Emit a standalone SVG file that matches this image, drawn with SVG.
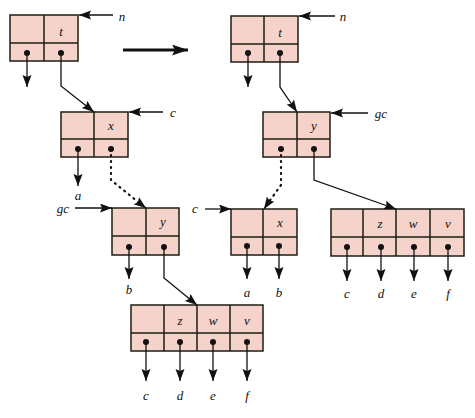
<svg xmlns="http://www.w3.org/2000/svg" width="475" height="418" viewBox="0 0 475 418">
<defs>
<marker id="ah" markerUnits="userSpaceOnUse" markerWidth="14" markerHeight="10" refX="12" refY="4.5" orient="auto">
<path d="M0,0 L12,4.5 L0,9 L2,4.5 Z" fill="#111"/>
</marker>
<marker id="big" markerUnits="userSpaceOnUse" markerWidth="18" markerHeight="12" refX="16" refY="5.5" orient="auto">
<path d="M0,0 L16,5.5 L0,11 L3,5.5 Z" fill="#111"/>
</marker>
</defs>
<style>
.box{fill:#f5d2ca;stroke:#1e1e14;stroke-width:1.5}
.div{stroke:#1e1e14;stroke-width:1.5;fill:none}
.dot{fill:#111}
.ln{stroke:#111;stroke-width:1.3;fill:none}
.arr{stroke:#111;stroke-width:1.3;fill:none;marker-end:url(#ah)}
.dotted{stroke:#111;stroke-width:2.2;fill:none;stroke-dasharray:1 5;stroke-linecap:round}
.lbl{font-family:"Liberation Serif",serif;font-style:italic;font-size:13px;fill:#111;text-anchor:middle}
</style>
<rect width="475" height="418" fill="#fff"/>

<g id="node-t">
<rect class="box" x="10" y="15" width="68" height="46"/>
<path class="div" d="M44,15 V61 M10,43 H78"/>
<circle class="dot" cx="27" cy="53" r="3"/>
<circle class="dot" cx="61" cy="53" r="3"/>
<text class="lbl" x="61" y="36">t</text>
</g>
<g id="node-x">
<rect class="box" x="61" y="112" width="67" height="45"/>
<path class="div" d="M94,112 V157 M61,139 H128"/>
<circle class="dot" cx="78" cy="149" r="3"/>
<circle class="dot" cx="111" cy="149" r="3"/>
<text class="lbl" x="111" y="130">x</text>
</g>
<g id="node-y">
<rect class="box" x="112" y="208" width="67" height="47"/>
<path class="div" d="M146,208 V255 M112,236 H179"/>
<circle class="dot" cx="129" cy="247" r="3"/>
<circle class="dot" cx="164" cy="247" r="3"/>
<text class="lbl" x="163" y="226">y</text>
</g>
<g id="node-zwv">
<rect class="box" x="131" y="305" width="132" height="46"/>
<path class="div" d="M164,305 V351 M197,305 V351 M230,305 V351 M131,333 H263"/>
<circle class="dot" cx="146" cy="342" r="3"/>
<circle class="dot" cx="180" cy="342" r="3"/>
<circle class="dot" cx="213" cy="342" r="3"/>
<circle class="dot" cx="247" cy="342" r="3"/>
<text class="lbl" x="180" y="325">z</text>
<text class="lbl" x="213" y="325">w</text>
<text class="lbl" x="247" y="325">v</text>
</g>

<g id="node-t2">
<rect class="box" x="231" y="16" width="67" height="46"/>
<path class="div" d="M264,16 V62 M231,44 H298"/>
<circle class="dot" cx="248" cy="53" r="3"/>
<circle class="dot" cx="280" cy="53" r="3"/>
<text class="lbl" x="280" y="37">t</text>
</g>
<g id="node-y2">
<rect class="box" x="263" y="112" width="67" height="45"/>
<path class="div" d="M297,112 V157 M263,139 H330"/>
<circle class="dot" cx="281" cy="149" r="3"/>
<circle class="dot" cx="314" cy="149" r="3"/>
<text class="lbl" x="314" y="130">y</text>
</g>
<g id="node-x2">
<rect class="box" x="231" y="209" width="66" height="46"/>
<path class="div" d="M263,209 V255 M231,237 H297"/>
<circle class="dot" cx="247" cy="246" r="3"/>
<circle class="dot" cx="279" cy="246" r="3"/>
<text class="lbl" x="280" y="227">x</text>
</g>
<g id="node-zwv2">
<rect class="box" x="331" y="209" width="133" height="47"/>
<path class="div" d="M363,209 V256 M396,209 V256 M430,209 V256 M331,237 H464"/>
<circle class="dot" cx="347" cy="247" r="3"/>
<circle class="dot" cx="381" cy="247" r="3"/>
<circle class="dot" cx="414" cy="247" r="3"/>
<circle class="dot" cx="448" cy="247" r="3"/>
<text class="lbl" x="380" y="228">z</text>
<text class="lbl" x="413" y="228">w</text>
<text class="lbl" x="448" y="228">v</text>
</g>

<g id="connectors">
<path class="arr" d="M113,15 H79"/>
<path class="arr" d="M27,53 V87"/>
<path class="arr" d="M61,53 V86 L94,112"/>
<path class="arr" d="M163,112 H129"/>
<path class="arr" d="M78,149 V186"/>
<path class="dotted" d="M111,149 V180 L143,206"/>
<path class="arr" d="M140,203.5 L146,208"/>
<path class="arr" d="M75,208 H112"/>
<path class="arr" d="M129,247 V279"/>
<path class="arr" d="M164,247 V278 L197,305"/>
<path class="arr" d="M146,342 V381"/>
<path class="arr" d="M180,342 V381"/>
<path class="arr" d="M213,342 V381"/>
<path class="arr" d="M247,342 V381"/>

<path d="M123,50 H188" stroke="#111" stroke-width="3" fill="none" marker-end="url(#big)"/>

<path class="arr" d="M335,16 H299"/>
<path class="arr" d="M248,53 V87"/>
<path class="arr" d="M280,53 V87 L297,112"/>
<path class="arr" d="M368,113 H331"/>
<path class="dotted" d="M281,149 V185 L266,206"/>
<path class="arr" d="M268,203 L264,209"/>
<path class="arr" d="M314,149 V180 L396,209"/>
<path class="arr" d="M205,209 H231"/>
<path class="arr" d="M247,246 V279"/>
<path class="arr" d="M279,246 V279"/>
<path class="arr" d="M347,247 V281"/>
<path class="arr" d="M381,247 V281"/>
<path class="arr" d="M414,247 V281"/>
<path class="arr" d="M448,247 V281"/>
</g>

<g id="labels">
<text class="lbl" x="122" y="21">n</text>
<text class="lbl" x="173" y="117">c</text>
<text class="lbl" x="78" y="200">a</text>
<text class="lbl" x="63" y="213">gc</text>
<text class="lbl" x="129" y="294">b</text>
<text class="lbl" x="146" y="400">c</text>
<text class="lbl" x="180" y="400">d</text>
<text class="lbl" x="213" y="400">e</text>
<text class="lbl" x="247" y="400">f</text>
<text class="lbl" x="343" y="21">n</text>
<text class="lbl" x="381" y="118">gc</text>
<text class="lbl" x="195" y="213">c</text>
<text class="lbl" x="247" y="297">a</text>
<text class="lbl" x="279" y="297">b</text>
<text class="lbl" x="347" y="298">c</text>
<text class="lbl" x="381" y="298">d</text>
<text class="lbl" x="414" y="298">e</text>
<text class="lbl" x="448" y="298">f</text>
</g>
</svg>
